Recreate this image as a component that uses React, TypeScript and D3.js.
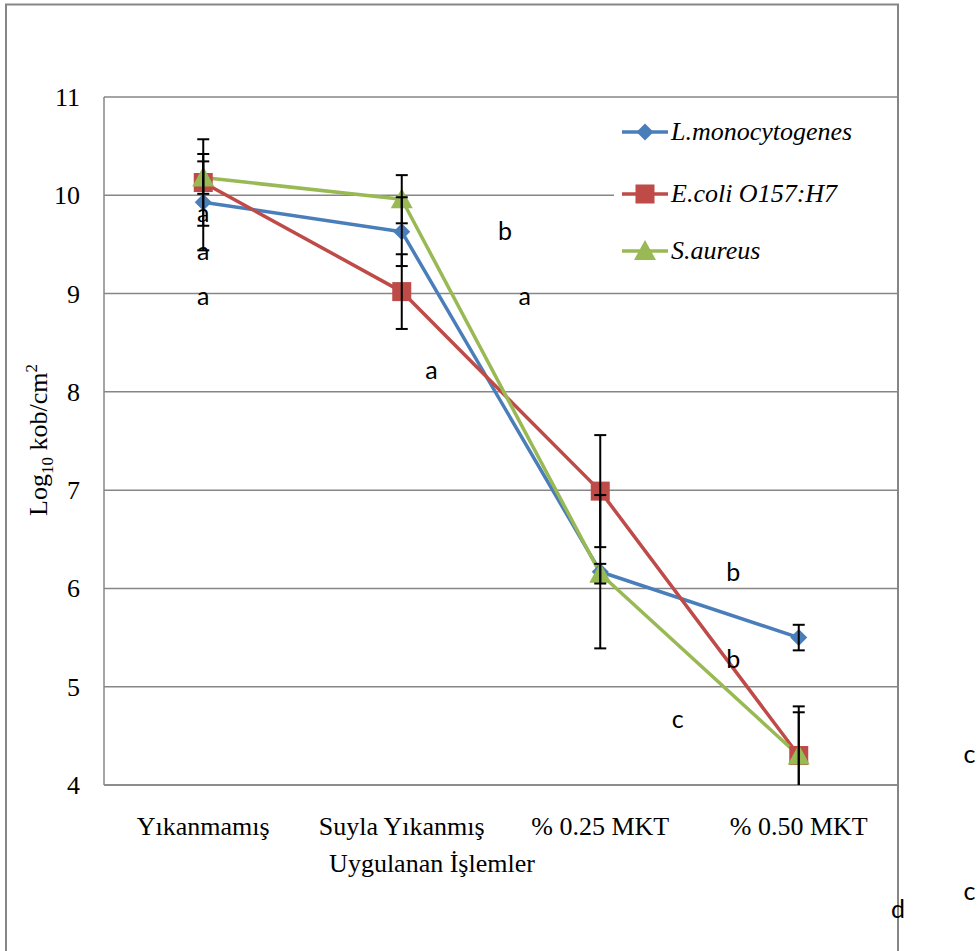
import React from "react";
import * as d3 from "d3";

const categories = ["Yıkanmamış", "Suyla Yıkanmış", "% 0.25 MKT", "% 0.50 MKT"];
const yTicks = [4, 5, 6, 7, 8, 9, 10, 11];

const seriesNames = ["L.monocytogenes", "E.coli O157:H7", "S.aureus"];
const lmonoValues = [9.93, 9.63, 6.17, 5.5];
const lmonoErrors = [0.49, 0.35, 0.78, 0.13];
const ecoliValues = [10.13, 9.02, 6.99, 4.3];
const ecoliErrors = [0.44, 0.38, 0.57, 0.5];
const saureusValues = [10.18, 9.96, 6.15, 4.3];
const saureusErrors = [0.165, 0.245, 0.1, 0.44];

// significance letters: [letter, category index (fractional), value]
const letterLabels: [string, number, number][] = [
  ["a", 0, 9.82],
  ["a", 0, 9.43],
  ["a", 0, 8.98],
  ["b", 1.52, 9.64],
  ["a", 1.62, 8.98],
  ["a", 1.15, 8.22],
  ["b", 2.67, 6.17],
  ["b", 2.67, 5.28],
  ["c", 2.39, 4.67],
  ["c", 3.86, 4.32],
  ["c", 3.86, 2.92],
  ["d", 3.5, 2.74],
];

const colors = ["#4A7EBB", "#BE4B48", "#98B954"];

export default function App() {
  const W = 978, H = 951;
  const left = 104, right = 898, top = 97, bottom = 785;
  const x = d3.scaleBand<string>().domain(categories).range([left, right]);
  const cx = (i: number) => left + x.bandwidth() * (i + 0.5);
  const y = d3.scaleLinear().domain([4, 11]).range([bottom, top]);

  const series = [
    { name: seriesNames[0], values: lmonoValues, errors: lmonoErrors, color: colors[0], marker: "diamond" },
    { name: seriesNames[1], values: ecoliValues, errors: ecoliErrors, color: colors[1], marker: "square" },
    { name: seriesNames[2], values: saureusValues, errors: saureusErrors, color: colors[2], marker: "triangle" },
  ];

  const line = d3.line<number>().x((_, i) => cx(i)).y((v) => y(v));

  const marker = (type: string, px: number, py: number, color: string, key: string) => {
    if (type === "diamond") {
      const s = 8.5;
      return <path key={key} d={`M${px},${py - s}L${px + s},${py}L${px},${py + s}L${px - s},${py}Z`} fill={color} />;
    }
    if (type === "square") {
      const s = 9.5;
      return <rect key={key} x={px - s} y={py - s} width={2 * s} height={2 * s} fill={color} />;
    }
    const s = 10;
    return <path key={key} d={`M${px},${py - s - 1}L${px + s + 1},${py + s - 1}L${px - s - 1},${py + s - 1}Z`} fill={color} />;
  };

  const legendY = [132, 194, 251];
  const legX1 = 622, legX2 = 668, legText = 671;
  const serif = "'Liberation Serif', 'Times New Roman', serif";
  const sans = "Lato, 'Liberation Sans', sans-serif";

  return (
    <svg width={W} height={H} style={{ position: "absolute", left: 0, top: 0, background: "#fff" }}>
      <defs>
        <clipPath id="plotclip">
          <rect x={left} y={0} width={right - left} height={bottom} />
        </clipPath>
      </defs>
      <rect x={0} y={0} width={W} height={H} fill="#fff" />
      {/* outer frame */}
      <path d={`M6,${H + 5}V4.5H898V${H + 5}`} fill="none" stroke="#868686" strokeWidth={2} />
      {/* gridlines */}
      {yTicks.map((t) => (
        <line key={t} x1={left} x2={right} y1={y(t)} y2={y(t)} stroke="#868686" strokeWidth={1.5} />
      ))}
      <line x1={left} x2={left} y1={top} y2={bottom} stroke="#868686" strokeWidth={1.5} />
      <line x1={left} x2={right} y1={bottom} y2={bottom} stroke="#868686" strokeWidth={1.5} />
      {/* y tick labels */}
      {yTicks.map((t) => (
        <text key={t} x={80} y={y(t) + 9} textAnchor="end" fontFamily={serif} fontSize={26} fill="#000">
          {t}
        </text>
      ))}
      {/* category labels */}
      {categories.map((c, i) => (
        <text key={c} x={cx(i)} y={835} textAnchor="middle" fontFamily={serif} fontSize={26} fill="#000">
          {c}
        </text>
      ))}
      <text x={432} y={872} textAnchor="middle" fontFamily={serif} fontSize={26} fill="#000">
        Uygulanan İşlemler
      </text>
      <text transform="translate(47,440) rotate(-90)" textAnchor="middle" fontFamily={serif} fontSize={26} fill="#000">
        Log<tspan fontSize={17} dy={6}>10</tspan>
        <tspan dy={-6}> kob/cm</tspan>
        <tspan fontSize={17} dy={-10}>2</tspan>
      </text>
      {/* lines */}
      {series.map((s) => (
        <path key={s.name} d={line(s.values) || ""} fill="none" stroke={s.color} strokeWidth={3.5} strokeLinejoin="round" />
      ))}
      {/* markers */}
      {series.map((s, si) => s.values.map((v, i) => marker(s.marker, cx(i), y(v), s.color, `m${si}-${i}`)))}
      {/* error bars */}
      <g clipPath="url(#plotclip)">
        {series.map((s, si) =>
          s.values.map((v, i) => {
            const px = cx(i);
            const y1 = y(v + s.errors[i]);
            const y2 = y(v - s.errors[i]);
            return (
              <g key={`e${si}-${i}`} stroke="#000" strokeWidth={2}>
                <line x1={px} x2={px} y1={y1} y2={y2} />
                <line x1={px - 6} x2={px + 6} y1={y1} y2={y1} />
                <line x1={px - 6} x2={px + 6} y1={y2} y2={y2} />
              </g>
            );
          })
        )}
      </g>
      {/* legend */}
      <rect x={legX1 - 8} y={108} width={right - legX1 + 7} height={172} fill="#fff" />
      {series.map((s, i) => (
        <g key={`l${i}`}>
          <line x1={legX1} x2={legX2} y1={legendY[i]} y2={legendY[i]} stroke={s.color} strokeWidth={3.5} />
          {marker(s.marker, (legX1 + legX2) / 2, legendY[i], s.color, `lm${i}`)}
          <text x={legText} y={legendY[i] + 8} fontFamily={serif} fontStyle="italic" fontSize={26} fill="#000">
            {s.name}
          </text>
        </g>
      ))}
      {/* significance letters */}
      {letterLabels.map(([l, ci, v], i) => (
        <text key={`t${i}`} x={cx(ci)} y={y(v) + 9} textAnchor="middle" fontFamily={sans} fontSize={25} fill="#000">
          {l}
        </text>
      ))}
    </svg>
  );
}
